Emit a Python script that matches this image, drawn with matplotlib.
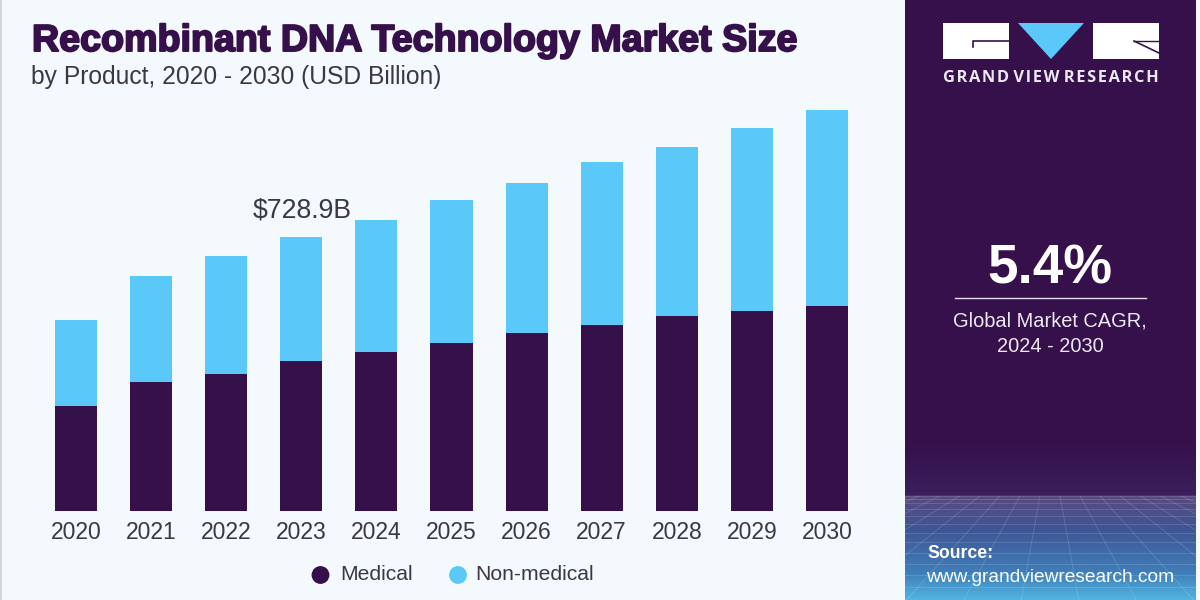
#!/usr/bin/env python
# -*- Coding:utf-8 -*-

import matplotlib
matplotlib.use('Agg')
import matplotlib.pyplot as plt
import matplotlib.patheffects as pe
import numpy as np
from matplotlib.colors import LinearSegmentedColormap
from matplotlib.patches import Polygon, Rectangle

years = ['2020', '2021', '2022', '2023', '2024', '2025', '2026', '2027', '2028', '2029', '2030']
medical = [279, 343, 364, 399, 423, 447, 473, 495, 519, 532, 545]
non_medical = [229, 282, 314, 330, 351, 380, 399, 434, 450, 487, 521]

PURPLE = '#36104a'
BLUE = '#5ac8f8'
BG = '#f3f9fd'
TEXT = '#3c3744'

plt.rcParams['font.family'] = ['Liberation Sans', 'DejaVu Sans']


def main():
    fig = plt.figure(figsize=(12, 6), dpi=100, facecolor=BG)

    # overlay in pixel coords for the panel and the text
    deco = fig.add_axes([0, 0, 1, 1])
    deco.axis('off')

    deco.add_patch(Rectangle((0, 0), 2, 600, color='#d2d4d6', lw=0))
    deco.add_patch(Rectangle((905, 0), 291, 600, color=PURPLE, lw=0))
    deco.add_patch(Rectangle((1196, 0), 4, 600, color='#f6fafd', lw=0))

    # bottom gradient of the panel
    cmap = LinearSegmentedColormap.from_list(
        'panel', [(0, PURPLE), (0.345, '#3a1f5c'), (0.35, '#584a80'),
                  (0.56, '#3f5595'), (0.84, '#3f80ba'), (1, '#52b4e0')])
    grad = np.linspace(0, 1, 320).reshape(-1, 1)
    deco.imshow(grad, extent=(905, 1196, 600, 440), cmap=cmap, aspect='auto', zorder=1)
    deco.set_xlim(0, 1200)
    deco.set_ylim(600, 0)

    # mesh in the gradient
    clip = Rectangle((905, 496), 291, 104, transform=deco.transData)
    for x in np.linspace(-300, 2400, 48):
        top = 1050 + (x - 1050) * 0.35
        deco.plot([top, x], [496, 600], color='white', alpha=0.14, lw=0.7, zorder=2, clip_path=clip)
    for f in np.linspace(0, 1, 13):
        y = 496 + 104 * f ** 1.5
        deco.plot([905, 1196], [y, y], color='white', alpha=0.14, lw=0.7, zorder=2)

    # logo
    deco.add_patch(Rectangle((943, 23), 66, 36, color='white', lw=0, zorder=3))
    deco.plot([973, 973, 1009], [47, 41, 41], color=PURPLE, lw=1.2, zorder=4)
    deco.add_patch(Polygon([(1018, 23), (1084, 23), (1051, 59)], color=BLUE, lw=0, zorder=3))
    deco.add_patch(Rectangle((1093, 23), 66, 36, color='white', lw=0, zorder=3))
    deco.plot([1134, 1159], [41, 41], color=PURPLE, lw=1, zorder=4)
    deco.plot([1134, 1159], [41, 53], color=PURPLE, lw=1.2, zorder=4)
    deco.text(1051, 78, 'G\u200aR\u200aA\u200aN\u200aD V\u200aI\u200aE\u200aW R\u200aE\u200aS\u200aE\u200aA\u200aR\u200aC\u200aH',
              color='#ece8f0', fontsize=11.8, fontweight='bold', ha='center', va='center',
              family=['Open Sans', 'DejaVu Sans'], zorder=4)

    # side panel text
    deco.text(1050, 269, '5.4%', color='white', fontsize=39.5, fontweight='bold',
              ha='center', va='center', zorder=4)
    deco.plot([955, 1146], [298, 298], color='#e5e0ea', lw=1, zorder=4)
    deco.text(1050, 321, 'Global Market CAGR,', color='#ece8f0', fontsize=14.4,
              ha='center', va='center', zorder=4)
    deco.text(1050, 347, '2024 - 2030', color='#ece8f0', fontsize=14.4,
              ha='center', va='center', zorder=4)
    deco.text(927, 554, 'Source:', color='white', fontsize=12.7, fontweight='bold',
              ha='left', va='center', zorder=4)
    deco.text(926, 577, 'www.grandviewresearch.com', color='white', fontsize=13.8,
              ha='left', va='center', zorder=4)

    # titles
    title = deco.text(32, 41, 'Recombinant DNA Technology Market Size', color=PURPLE,
                      fontsize=27.1, fontweight='bold', ha='left', va='center')
    title.set_path_effects([pe.withStroke(linewidth=1.4, foreground=PURPLE)])
    deco.text(31, 77, 'by Product, 2020 - 2030 (USD Billion)', color=TEXT, fontsize=17.7,
              ha='left', va='center')

    # bars, scaled so that the baseline and tops land where they do in the reference
    ax = fig.add_axes([38.5 / 1200, 89 / 600, 826 / 1200, 422 / 600])
    ax.patch.set_alpha(0)
    x = np.arange(len(years))
    ax.bar(x, medical, width=0.56, color=PURPLE)
    ax.bar(x, non_medical, width=0.56, bottom=medical, color=BLUE)
    ax.set_xlim(-0.5, 10.5)
    ax.set_ylim(0, 1122.5)
    ax.set_xticks(x)
    ax.set_xticklabels(years)
    ax.set_yticks([])
    ax.tick_params(axis='x', length=0, pad=7, labelsize=16.5, labelcolor=TEXT)
    for side in ax.spines.values():
        side.set_visible(False)

    ax.text(3.01, medical[3] + non_medical[3] + 71, '$728.9B', ha='center', va='center',
            fontsize=19.2, color=TEXT, parse_math=False)

    # legend
    deco.scatter([320.5, 458], [575, 575], s=[165, 165], c=[PURPLE, BLUE], lw=0, zorder=3)
    deco.text(340, 574, 'Medical', color=TEXT, fontsize=15.2, ha='left', va='center')
    deco.text(475, 574, 'Non-medical', color=TEXT, fontsize=15.2, ha='left', va='center')

    fig.savefig('out.png', dpi=100, facecolor=BG)


if __name__ == "__main__":
    main()
